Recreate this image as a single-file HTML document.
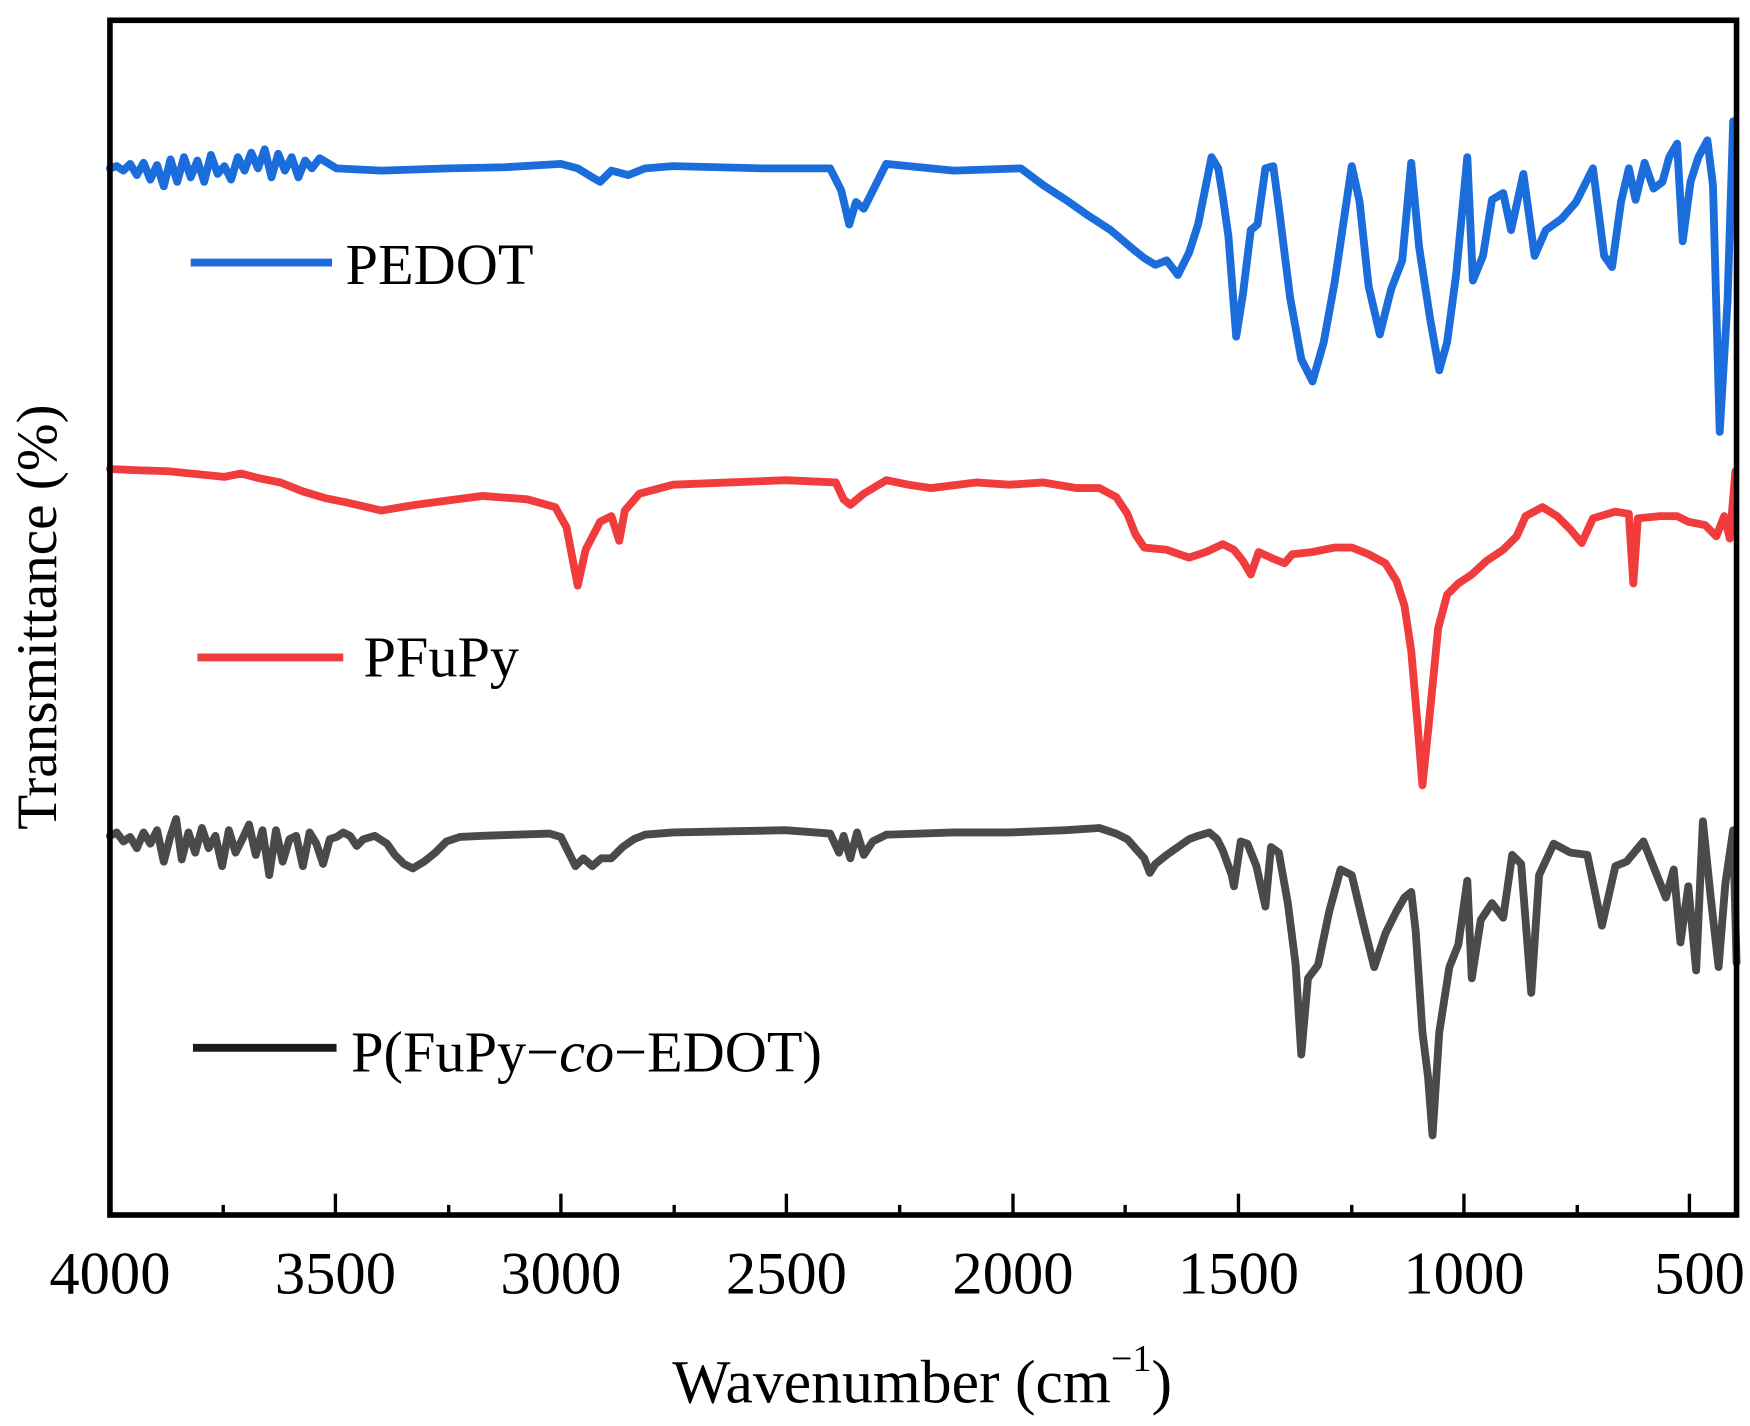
<!DOCTYPE html>
<html><head><meta charset="utf-8"><style>
html,body{margin:0;padding:0;background:#fff;}
svg{display:block;}
text{font-family:"Liberation Serif",serif;fill:#000;}
</style></head><body>
<svg width="1750" height="1426" viewBox="0 0 1560 1271" xmlns="http://www.w3.org/2000/svg">
<rect width="1560" height="1271" fill="#fff"/>
<g fill="none" stroke-linejoin="round" stroke-linecap="round" stroke-width="7">
<polyline stroke="#1c6ddc" points="98,150 104,148 110,152 116,146 122,156 128,145 134,160 140,147 146,166 152,142 158,162 164,140 170,158 176,143 182,162 188,138 194,155 200,148 206,160 212,140 218,152 224,136 230,150 236,133 242,158 248,137 254,152 260,140 266,158 272,143 278,150 285,141 300,150 340,152 400,150 450,149 500,146 515,150 528,158 535,162 545,152 560,156 575,150 600,148 680,150 740,150 750,170 757,200 763,180 770,186 790,146 850,152 910,150 930,165 950,178 970,192 990,205 1010,222 1020,230 1030,236 1040,232 1050,245 1060,225 1068,200 1075,165 1080,140 1086,150 1090,175 1095,210 1102,300 1108,262 1115,205 1121,200 1128,150 1135,148 1140,185 1150,265 1160,320 1170,340 1180,305 1190,250 1205,148 1212,180 1220,255 1230,298 1240,258 1250,232 1258,145 1265,220 1275,285 1283,330 1290,305 1298,245 1308,140 1313,250 1322,228 1330,178 1340,172 1347,205 1358,155 1368,228 1378,205 1392,195 1405,180 1420,150 1430,228 1437,238 1445,180 1452,150 1458,178 1466,145 1474,168 1482,162 1488,140 1495,128 1500,215 1507,162 1514,140 1522,125 1527,165 1533,385 1540,268 1545,108"/>
<polyline stroke="#f03c3c" points="98,418 120,419 150,420 180,423 200,425 215,422 230,426 250,430 270,438 290,444 310,448 340,455 370,450 400,446 430,442 470,445 495,452 505,470 515,522 522,490 535,465 545,460 552,482 557,455 570,440 600,432 650,430 700,428 745,430 752,445 758,450 770,440 790,428 810,432 830,435 870,430 900,432 930,430 960,435 980,435 995,443 1005,458 1012,476 1020,488 1040,490 1060,497 1075,492 1090,485 1100,490 1108,500 1115,512 1122,492 1135,498 1145,502 1152,494 1170,492 1190,488 1205,488 1220,494 1235,502 1245,518 1252,540 1258,580 1264,650 1268,700 1274,642 1282,560 1290,530 1300,520 1312,512 1325,500 1340,490 1352,478 1360,460 1375,452 1388,460 1400,472 1410,484 1420,462 1440,456 1452,458 1456,520 1460,462 1480,460 1495,460 1505,465 1520,468 1530,478 1537,460 1542,480 1547,420"/>
<polyline stroke="#4a4a4a" points="98,745 104,742 110,750 116,746 122,756 128,742 134,752 140,740 146,768 152,745 157,730 162,766 168,742 174,760 180,738 186,756 192,745 198,772 204,740 210,760 216,748 222,735 228,762 234,740 240,780 246,740 252,768 258,748 264,745 270,772 276,742 282,752 288,770 294,748 300,746 306,742 312,745 318,754 324,748 334,745 345,752 352,762 360,770 368,774 378,768 388,760 398,750 410,746 430,745 460,744 490,743 500,746 507,760 513,772 520,765 528,772 536,765 545,765 555,755 565,748 575,744 600,742 650,741 700,740 740,743 748,760 752,745 758,765 764,742 770,762 778,750 790,744 850,742 900,742 950,740 980,738 995,743 1005,748 1012,756 1020,765 1025,778 1030,770 1040,762 1050,755 1060,748 1068,745 1078,742 1085,748 1090,758 1098,780 1100,790 1106,750 1112,752 1120,772 1128,808 1133,755 1140,760 1148,805 1155,860 1160,940 1166,872 1175,860 1185,812 1195,775 1205,780 1215,822 1225,862 1235,832 1245,812 1252,800 1258,795 1262,830 1268,920 1273,960 1277,1012 1283,920 1292,862 1300,842 1308,785 1312,872 1320,820 1330,805 1340,818 1348,762 1356,770 1365,885 1372,780 1385,752 1400,760 1415,762 1428,825 1440,772 1450,768 1465,750 1475,775 1485,800 1492,775 1498,840 1505,790 1512,865 1518,732 1525,800 1532,862 1538,788 1545,740 1548,858"/>
</g>
<rect x="98" y="18" width="1450" height="1065" fill="none" stroke="#000" stroke-width="5"/>
<g stroke="#000" stroke-width="3">
<line x1="299" y1="1083" x2="299" y2="1064"/><line x1="500" y1="1083" x2="500" y2="1064"/><line x1="701" y1="1083" x2="701" y2="1064"/><line x1="903" y1="1083" x2="903" y2="1064"/><line x1="1104" y1="1083" x2="1104" y2="1064"/><line x1="1305" y1="1083" x2="1305" y2="1064"/><line x1="1506" y1="1083" x2="1506" y2="1064"/>
<line x1="199" y1="1083" x2="199" y2="1074"/><line x1="400" y1="1083" x2="400" y2="1074"/><line x1="601" y1="1083" x2="601" y2="1074"/><line x1="802" y1="1083" x2="802" y2="1074"/><line x1="1003" y1="1083" x2="1003" y2="1074"/><line x1="1205" y1="1083" x2="1205" y2="1074"/><line x1="1406" y1="1083" x2="1406" y2="1074"/>
</g>
<g font-size="54" text-anchor="middle">
<text x="98" y="1153">4000</text><text x="299" y="1153">3500</text><text x="500" y="1153">3000</text><text x="701" y="1153">2500</text><text x="903" y="1153">2000</text><text x="1104" y="1153">1500</text><text x="1305" y="1153">1000</text><text x="1515" y="1153">500</text>
</g>
<text x="822" y="1250" font-size="55" text-anchor="middle">Wavenumber (cm<tspan font-size="34" dy="-28">−1</tspan><tspan dy="28">)</tspan></text>
<text transform="translate(50,550) rotate(-90)" font-size="51" text-anchor="middle">Transmittance (%)</text>
<line x1="170" y1="234" x2="296" y2="234" stroke="#1c6ddc" stroke-width="7"/>
<text x="308" y="253" font-size="52">PEDOT</text>
<line x1="176" y1="586" x2="306" y2="586" stroke="#f03c3c" stroke-width="7"/>
<text x="324" y="603" font-size="52">PFuPy</text>
<line x1="172" y1="934" x2="300" y2="934" stroke="#1a1a1a" stroke-width="7"/>
<text x="313" y="955" font-size="52">P(FuPy−<tspan font-style="italic">co</tspan>−EDOT)</text>
</svg>
</body></html>
